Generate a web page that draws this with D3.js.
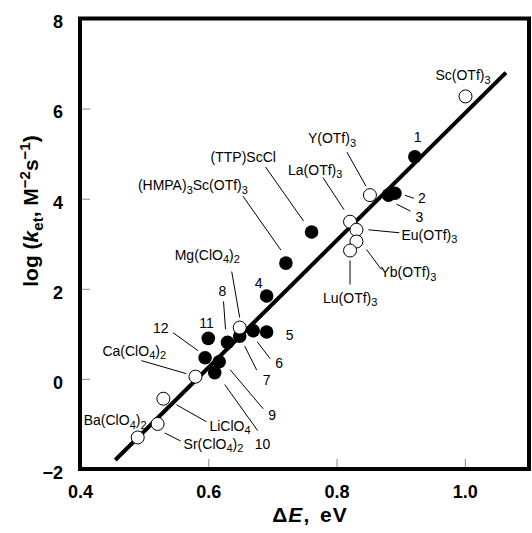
<!DOCTYPE html>
<html>
<head>
<meta charset="utf-8">
<script src="https://cdn.jsdelivr.net/npm/d3@7/dist/d3.min.js"></script>
<style>
  html, body { margin: 0; padding: 0; background: #fff; }
  svg { display: block; }
  text { font-family: "Liberation Sans", Arial, Helvetica, sans-serif; }
</style>
</head>
<body>
<div id="chart"></div>
<script>
// ---------------- data ----------------
const xTicks = [0.4, 0.6, 0.8, 1.0];
const yTicks = [-2, 0, 2, 4, 6, 8];

// metal salts (open circles)
const openNames = ["Sc(OTf)3", "Y(OTf)3", "La(OTf)3", "Eu(OTf)3", "Yb(OTf)3", "Lu(OTf)3",
                   "Mg(ClO4)2", "Ca(ClO4)2", "LiClO4", "Sr(ClO4)2", "Ba(ClO4)2"];
const openX = [1.001, 0.852, 0.821, 0.831, 0.831, 0.821, 0.649, 0.580, 0.530, 0.521, 0.490];
const openY = [6.27, 4.08, 3.49, 3.31, 3.05, 2.85, 1.14, 0.05, -0.44, -1.00, -1.30];

// numbered compounds (filled circles)
const filledNames = ["1", "2", "3", "(TTP)ScCl", "(HMPA)3Sc(OTf)3", "4", "5", "6", "7", "8", "11", "12", "9", "10"];
const filledX = [0.922, 0.891, 0.881, 0.761, 0.721, 0.691, 0.691, 0.670, 0.649, 0.630, 0.600, 0.595, 0.617, 0.610];
const filledY = [4.93, 4.12, 4.08, 3.26, 2.57, 1.84, 1.04, 1.07, 0.95, 0.81, 0.90, 0.47, 0.38, 0.14];

// regression line end points
const fitX = [0.455, 1.064];
const fitY = [-1.80, 6.80];

// ---------------- layout (label offsets in px from the point) ----------------
const labelLayout = {
  "Sc(OTf)3":        { t: [-30, -16] },
  "Y(OTf)3":         { t: [-62, -52], l: [-23, -43, -4, -9] },
  "La(OTf)3":        { t: [-62, -47], l: [-27, -44, -6, -12] },
  "Eu(OTf)3":        { t: [45, 10],   l: [12, 0, 43, 3] },
  "Yb(OTf)3":        { t: [24, 36],   l: [10, 8, 25, 28] },
  "Lu(OTf)3":        { t: [-27, 52],  l: [0, 10, 0, 34] },
  "Mg(ClO4)2":       { t: [-65, -68], l: [-8, -56, 0, -10] },
  "Ca(ClO4)2":       { t: [-93, -21], l: [-54, -16, -9, -3] },
  "LiClO4":          { t: [46, 32],   l: [13, 6, 43, 23] },
  "Sr(ClO4)2":       { t: [26, 25],   l: [7, 9, 23, 17] },
  "Ba(ClO4)2":       { t: [-54, -12] },
  "1":               { t: [-1, -15] },
  "2":               { t: [23, 10],   l: [10, 2, 19, 5] },
  "3":               { t: [27, 27],   l: [8, 9, 22, 16] },
  "(TTP)ScCl":       { t: [-101, -70], l: [-46, -65, -8, -11] },
  "(HMPA)3Sc(OTf)3": { t: [-148, -73], l: [-43, -67, -5, -13] },
  "4":               { t: [-12, -8] },
  "5":               { t: [19, 8] },
  "6":               { t: [22, 37],   l: [4, 11, 17, 28] },
  "7":               { t: [23, 49],   l: [5, 10, 17, 34] },
  "8":               { t: [-9, -46],  l: [-4, -41, -2, -13] },
  "11":              { t: [-9, -10] },
  "12":              { t: [-52, -25], l: [-32, -25, -7, -7] },
  "9":               { t: [49, 58],   l: [11, 8, 44, 47] },
  "10":              { t: [40, 76],   l: [10, 12, 43, 58] }
};

// ---------------- chart ----------------
const W = 532, H = 533;
const svg = d3.select("#chart").append("svg").attr("width", W).attr("height", H);

const x = d3.scaleLinear().domain([0.4, 1.1]).range([80, 529]);
const y = d3.scaleLinear().domain([-2, 8]).range([469, 18.5]);

// axes (ticks inward, gray)
const xAxis = d3.axisBottom(x).tickValues(xTicks).tickSize(-10).tickPadding(16)
  .tickFormat(d3.format(".1f"));
const yAxis = d3.axisLeft(y).tickValues(yTicks).tickSize(-10).tickPadding(17)
  .tickFormat(d => d < 0 ? "\u2212" + Math.abs(d) : String(d));

const gx = svg.append("g").attr("transform", `translate(0,${y(-2)})`).call(xAxis);
const gy = svg.append("g").attr("transform", `translate(${x(0.4)},0)`).call(yAxis);
[gx, gy].forEach(g => {
  g.select(".domain").remove();
  g.selectAll(".tick line").attr("stroke", "#8a8a8a").attr("stroke-width", 1);
  g.selectAll(".tick text").attr("fill", "#000").style("font-size", "18px")
    .style("font-weight", "bold").style("font-family", "'Liberation Sans', Arial, sans-serif");
});
gy.selectAll(".tick text").attr("dy", "0.52em");
gx.selectAll(".tick text").attr("dy", "0.72em");

// frame
svg.append("rect")
  .attr("x", x(0.4)).attr("y", y(8))
  .attr("width", x(1.1) - x(0.4)).attr("height", y(-2) - y(8))
  .attr("fill", "none").attr("stroke", "#000").attr("stroke-width", 4);

// regression line
svg.append("line")
  .attr("x1", x(fitX[0])).attr("y1", y(fitY[0]))
  .attr("x2", x(fitX[1])).attr("y2", y(fitY[1]))
  .attr("stroke", "#000").attr("stroke-width", 4);

// points
const openPts = openNames.map((n, i) => ({ name: n, x: openX[i], y: openY[i], open: true }));
const filledPts = filledNames.map((n, i) => ({ name: n, x: filledX[i], y: filledY[i], open: false }));
const allPts = openPts.concat(filledPts);

const R = 6.5;
svg.append("g").selectAll("circle").data(filledPts).join("circle")
  .attr("cx", d => x(d.x)).attr("cy", d => y(d.y)).attr("r", R + 0.3)
  .attr("fill", "#000");
svg.append("g").selectAll("circle").data(openPts).join("circle")
  .attr("cx", d => x(d.x)).attr("cy", d => y(d.y)).attr("r", R)
  .attr("fill", "#fff").attr("stroke", "#000").attr("stroke-width", 1);

// leader lines
const leaderG = svg.append("g");
allPts.forEach(d => {
  const lay = labelLayout[d.name];
  if (!lay || !lay.l) return;
  const px = x(d.x), py = y(d.y);
  leaderG.append("line")
    .attr("x1", px + lay.l[0]).attr("y1", py + lay.l[1])
    .attr("x2", px + lay.l[2]).attr("y2", py + lay.l[3])
    .attr("stroke", "#000").attr("stroke-width", 1);
});

// labels with subscripts
function addChem(g, str, tx, ty) {
  const t = g.append("text").attr("x", tx).attr("y", ty)
    .style("font-size", "14px").attr("fill", "#000");
  if (/^\d+$/.test(str)) { t.text(str); return; }
  const parts = str.match(/\d+|\D+/g);
  let sub = false;
  parts.forEach(p => {
    const isDigit = /^\d+$/.test(p);
    const ts = t.append("tspan").text(p);
    if (isDigit && !sub) { ts.attr("dy", 3.5).style("font-size", "11px"); sub = true; }
    else if (!isDigit && sub) { ts.attr("dy", -3.5); sub = false; }
    else if (isDigit) { ts.style("font-size", "11px"); }
  });
}
const labelG = svg.append("g");
allPts.forEach(d => {
  const lay = labelLayout[d.name];
  if (!lay) return;
  addChem(labelG, d.name, x(d.x) + lay.t[0], y(d.y) + lay.t[1]);
});

// axis titles
const xt = svg.append("text").attr("x", 310).attr("y", 522)
  .attr("text-anchor", "middle").style("font-size", "21px").style("font-weight", "bold")
  .style("letter-spacing", "1px").style("word-spacing", "3px");
xt.append("tspan").text("\u0394");
xt.append("tspan").text("E").style("font-style", "italic");
xt.append("tspan").text(", eV");

const yt = svg.append("text").attr("transform", "translate(38,211) rotate(-90)")
  .attr("text-anchor", "middle").style("font-size", "21px").style("font-weight", "bold");
yt.append("tspan").text("log (");
yt.append("tspan").text("k").style("font-style", "italic");
yt.append("tspan").text("et").attr("dy", 5).style("font-size", "15px");
yt.append("tspan").text(", M").attr("dy", -5);
yt.append("tspan").text("\u22122").attr("dy", -8).style("font-size", "15px");
yt.append("tspan").text("s").attr("dy", 8);
yt.append("tspan").text("\u22121").attr("dy", -8).style("font-size", "15px");
yt.append("tspan").text(")").attr("dy", 8);
</script>
</body>
</html>
